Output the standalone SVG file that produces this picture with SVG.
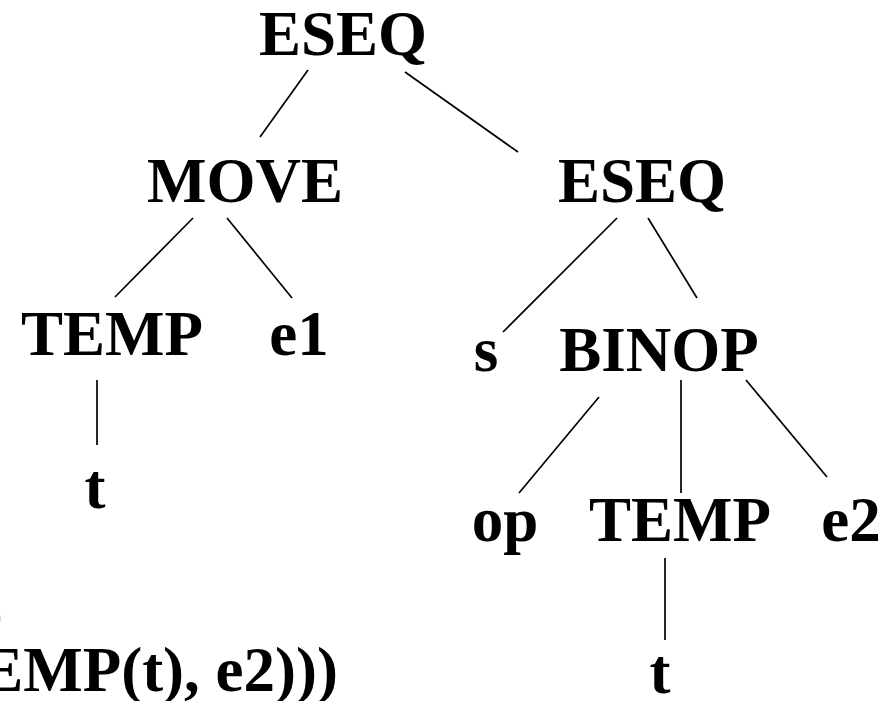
<svg xmlns="http://www.w3.org/2000/svg" width="890" height="701" viewBox="0 0 890 701">
  <style>
    .lbl { font-family: "Liberation Serif", "Times New Roman", serif; font-weight: bold; font-size: 63px; fill: #000; text-anchor: middle; }
    .expr { font-family: "Liberation Serif", "Times New Roman", serif; font-weight: bold; font-size: 63px; fill: #000; text-anchor: end; }
    .edge { stroke: #000; stroke-width: 1.7; fill: none; }
  </style>
  <rect width="890" height="701" fill="#fff"/>

  <!-- tree edges -->
  <g id="connectors">
    <line class="edge" x1="308" y1="70" x2="260" y2="137"/>
    <line class="edge" x1="405" y1="72" x2="518" y2="152"/>
    <line class="edge" x1="193" y1="218" x2="115" y2="297"/>
    <line class="edge" x1="227" y1="218" x2="292" y2="298"/>
    <line class="edge" x1="97" y1="380" x2="97" y2="445"/>
    <line class="edge" x1="617" y1="218" x2="503" y2="332"/>
    <line class="edge" x1="648" y1="218" x2="697" y2="298"/>
    <line class="edge" x1="599" y1="397" x2="519" y2="493"/>
    <line class="edge" x1="681" y1="380" x2="681" y2="493"/>
    <line class="edge" x1="746" y1="380" x2="827" y2="477"/>
    <line class="edge" x1="665" y1="558" x2="665" y2="640"/>
  </g>

  <!-- tree nodes -->
  <g id="eseq-root"><text class="lbl" x="343" y="55">ESEQ</text></g>
  <g id="move"><text class="lbl" x="245" y="202">MOVE</text></g>
  <g id="eseq-inner"><text class="lbl" x="642" y="202">ESEQ</text></g>
  <g id="temp-left"><text class="lbl" x="112" y="355">TEMP</text></g>
  <g id="e1"><text class="lbl" x="299" y="355">e1</text></g>
  <g id="t-left"><text class="lbl" x="95" y="508">t</text></g>
  <g id="s"><text class="lbl" x="486" y="371">s</text></g>
  <g id="binop"><text class="lbl" x="659" y="371">BINOP</text></g>
  <g id="op"><text class="lbl" x="505" y="541">op</text></g>
  <g id="temp-right"><text class="lbl" x="680" y="541">TEMP</text></g>
  <g id="e2"><text class="lbl" x="851" y="541">e2</text></g>
  <g id="t-right"><text class="lbl" x="660" y="693">t</text></g>

  <!-- linear form of the expression, running off the left edge -->
  <g id="expression">
    <text class="expr" x="3" y="634">)</text>
    <text class="expr" x="338" y="691">TEMP(t), e2)))</text>
  </g>
</svg>
